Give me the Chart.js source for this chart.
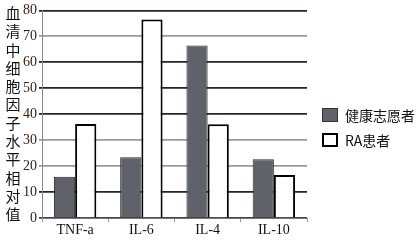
<!DOCTYPE html>
<html>
<head>
<meta charset="utf-8">
<script src="https://cdn.jsdelivr.net/npm/chart.js@4"></script>
<style>
  html, body { margin: 0; padding: 0; background: #fff; }
  #wrap { position: relative; width: 416px; height: 240px; }
  #ytitle { position: absolute; left: 4px; top: 4px; width: 18px;
    font: 15px "Noto Sans CJK SC"; line-height: 18.3px; color: #111; text-align: center; }
  #legend { position: absolute; left: 322px; top: 102px; font: 14px "Noto Sans CJK SC"; color: #111; }
  .li { display: flex; align-items: center; height: 25px; }
  .sw { width: 16px; height: 14px; margin-right: 7px; box-sizing: border-box; }
</style>
</head>
<body>
<div id="wrap">
  <canvas id="c" width="416" height="240"></canvas>
  <div id="ytitle">血<br>清<br>中<br>细<br>胞<br>因<br>子<br>水<br>平<br>相<br>对<br>值</div>
  <div id="legend">
    <div class="li"><div class="sw" style="background:#5f6269;border:1px solid #333"></div>健康志愿者</div>
    <div class="li"><div class="sw" style="background:#fff;border:2px solid #000"></div>RA患者</div>
  </div>
</div>
<script>
const categories = ['TNF-a', 'IL-6', 'IL-4', 'IL-10'];
const healthy = [16, 23.5, 66.5, 22.7];
const raPatients = [36.3, 76.5, 36.2, 16.6];
const seriesNames = ['健康志愿者', 'RA患者'];
const yTicks = [0, 10, 20, 30, 40, 50, 60, 70, 80];

const gridShade = { 80: '#2b2222', 70: '#9a9a9a', 60: '#2b2222', 50: '#2b2222', 40: '#2b2222', 30: '#9a9a9a', 20: '#9a9a9a', 10: '#2b2222', 0: '#444' };

new Chart(document.getElementById('c'), {
  type: 'bar',
  data: {
    labels: categories,
    datasets: [
      { label: seriesNames[0], data: healthy, backgroundColor: '#5f6269', borderColor: '#2a2a2a', borderWidth: 1, borderSkipped: 'bottom' },
      { label: seriesNames[1], data: raPatients, backgroundColor: '#ffffff', borderColor: '#000000', borderWidth: 2, borderSkipped: 'bottom' }
    ]
  },
  options: {
    responsive: false,
    animation: false,
    layout: { padding: { left: 21, right: 109, top: 9, bottom: 1 } },
    datasets: { bar: { categoryPercentage: 0.64, barPercentage: 1 } },
    plugins: { legend: { display: false }, tooltip: { enabled: false } },
    scales: {
      x: {
        grid: { drawOnChartArea: false, offset: true, tickLength: 4, color: '#999' },
        border: { color: '#777', width: 1 },
        ticks: { color: '#111', font: { family: 'Liberation Serif', size: 14 }, padding: 0 }
      },
      y: {
        min: 0, max: 80,
        afterBuildTicks: axis => { axis.ticks = yTicks.map(v => ({ value: v })); },
        grid: { color: ctx => gridShade[ctx.tick ? ctx.tick.value : 0] || '#444', lineWidth: 1.8, tickLength: 3 },
        border: { color: '#888', width: 1 },
        ticks: { color: '#3a2010', font: { family: 'Liberation Serif', size: 14 }, padding: 2 }
      }
    }
  }
});
</script>
</body>
</html>
